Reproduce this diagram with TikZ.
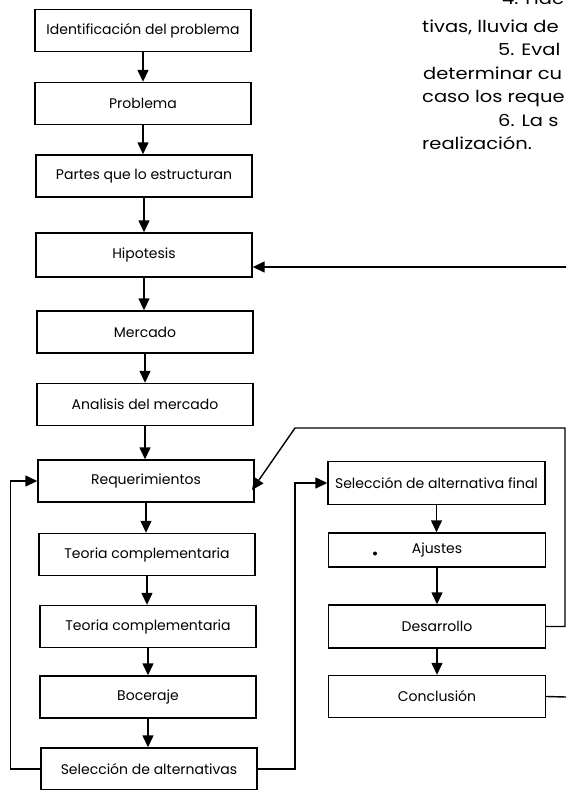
\documentclass[tikz,border=0pt]{standalone}
\usepackage{fontspec}
\setmainfont{Poppins}
\newfontfamily\parrafo[FakeStretch=1.18]{Poppins}
\usetikzlibrary{arrows.meta}

\begin{document}
\begin{tikzpicture}[x=1pt,y=-1pt,line cap=round,
  caja/.style={draw,line width=1.4pt,minimum width=216pt,minimum height=42pt,inner sep=0pt,font=\fontsize{14}{16}\selectfont},
  flecha/.style={line width=1.4pt,-{Triangle[length=12pt,width=11pt]}},
  linea/.style={line width=1.4pt}]
  \useasboundingbox (0,0) rectangle (566,790);
  \clip (0,0) rectangle (566,790);
  % texto de la pagina, cortado a la derecha
  \begin{scope}[font=\parrafo\fontsize{16.5}{20}\selectfont]
    \node[anchor=base west,inner sep=0pt] (p0) at (502,4) {4. Hac};
    \node[anchor=base west,inner sep=0pt] (p1) at (422,32) {tivas, lluvia de};
    \node[anchor=base west,inner sep=0pt] (p2) at (498,55.5) {5. Eval};
    \node[anchor=base west,inner sep=0pt] (p3) at (423,79) {determinar cu};
    \node[anchor=base west,inner sep=0pt] (p4) at (422,102.5) {caso los reque};
    \node[anchor=base west,inner sep=0pt] (p5) at (498,126) {6. La s};
    \node[anchor=base west,inner sep=0pt] (p6) at (422,149.5) {realización.};
  \end{scope}
  % columna izquierda
  \node[caja] (idprob) at (143,30.5) {Identificación del problema};
  \node[caja] (prob) at (143,103.5) {Problema};
  \node[caja] (partes) at (144,176) {Partes que lo estructuran};
  \node[caja,minimum height=44pt] (hipo) at (144,255) {Hipotesis};
  \node[caja] (merc) at (145,332) {Mercado};
  \node[caja] (anmerc) at (145,404.5) {Analisis del mercado};
  \node[caja] (req) at (146,481) {Requerimientos};
  \node[caja] (teo1) at (147,554.5) {Teoria complementaria};
  \node[caja] (teo2) at (148,626.5) {Teoria complementaria};
  \node[caja] (boc) at (148,697) {Boceraje};
  \node[caja] (selalt) at (149,769) {Selección de alternativas};
  % columna derecha
  \node[caja,minimum width=217pt,minimum height=43pt] (selfin) at (436.5,483) {Selección de alternativa final};
  \node[caja,minimum width=217pt,minimum height=34pt] (ajus) at (437,550) {Ajustes};
  \node[caja,minimum width=217pt,minimum height=43pt] (desa) at (437,626.5) {Desarrollo};
  \node[caja,minimum width=217pt] (concl) at (437,696.5) {Conclusión};
  \fill (375,553.5) circle (2pt);
  % flechas verticales
  \foreach \a/\b in {idprob/prob,prob/partes,partes/hipo,hipo/merc,merc/anmerc,anmerc/req,req/teo1,teo1/teo2,teo2/boc,boc/selalt,selfin/ajus,ajus/desa,desa/concl}
    \draw[flecha] (\a.south) -- (\a.south |- \b.north);
  % retornos
  \coordinate (fbhip) at (566,267);
  \coordinate (fbcon) at (566,697);
  \draw[flecha] (fbhip) -- (fbhip -| hipo.east);
  \draw[linea] (concl.east) -- (fbcon);
  \coordinate (dsup) at (295,428);
  \coordinate (dreq) at (252,490);
  \draw[flecha] (desa.east) -- (565,626.5) -- (565,428) -- (dsup) -- (dreq);
  \draw[flecha] (selalt.west) -- ++(-30,0) |- (req.west);
  \draw[flecha] (selalt.east) -- (295,769) |- (selfin.west);
\end{tikzpicture}
\end{document}
